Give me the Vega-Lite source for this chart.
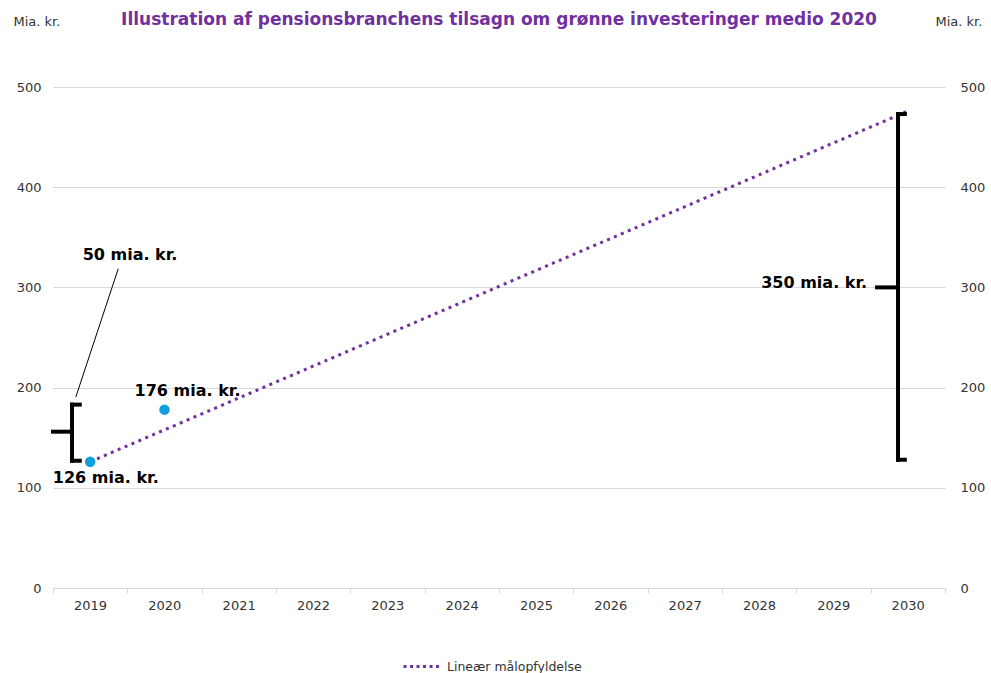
{
  "$schema": "https://vega.github.io/schema/vega-lite/v6.json",
  "autosize": {"type": "none"},
  "width": 892,
  "height": 501,
  "padding": {"left": 53, "top": 87, "right": 46, "bottom": 85},
  "background": "white",
  "title": {
    "text": "Illustration  af pensionsbranchens  tilsagn om grønne investeringer medio 2020",
    "color": "#7030A0",
    "font": "DejaVu Sans",
    "fontWeight": "bold",
    "fontSize": 17,
    "anchor": "middle",
    "frame": "group",
    "offset": -14
  },
  "config": {
    "view": {"stroke": null},
    "axis": {
      "labelFont": "DejaVu Sans",
      "labelFontSize": 13,
      "labelColor": "#333333",
      "titleFont": "DejaVu Sans",
      "titleFontSize": 13,
      "titleFontWeight": "normal",
      "titleColor": "#333333"
    }
  },
  "datasets": {
    "line": [
      {"year": 2019, "value": 126, "series": "Lineær målopfyldelse"},
      {"year": 2030, "value": 476, "series": "Lineær målopfyldelse"}
    ],
    "points": [
      {"year": 2019, "value": 126},
      {"year": 2020, "value": 178}
    ],
    "brackets": [
      {"x": 2018.756, "x2": 2018.756, "y": 183, "y2": 127, "w": 3},
      {"x": 2018.756, "x2": 2018.86, "y": 183, "y2": 183, "w": 3},
      {"x": 2018.756, "x2": 2018.86, "y": 127, "y2": 127, "w": 3},
      {"x": 2018.5, "x2": 2018.756, "y": 156, "y2": 156, "w": 3},
      {"x": 2029.868, "x2": 2029.868, "y": 473, "y2": 128, "w": 3},
      {"x": 2029.868, "x2": 2029.96, "y": 473, "y2": 473, "w": 3},
      {"x": 2029.868, "x2": 2029.96, "y": 128, "y2": 128, "w": 3},
      {"x": 2029.586, "x2": 2029.868, "y": 300, "y2": 300, "w": 3},
      {"x": 2019.375, "x2": 2018.809, "y": 318, "y2": 191, "w": 1}
    ],
    "labels": [
      {"year": 2019.536, "value": 332, "text": "50 mia. kr."},
      {"year": 2020.31, "value": 197, "text": "176 mia. kr."},
      {"year": 2019.21, "value": 110, "text": "126 mia. kr."},
      {"year": 2028.74, "value": 304, "text": "350 mia. kr."}
    ]
  },
  "layer": [
    {
      "data": {"name": "line"},
      "mark": {"type": "line", "strokeWidth": 3, "strokeDash": [3, 4.5], "strokeCap": "butt"},
      "encoding": {
        "x": {
          "field": "year",
          "type": "quantitative",
          "scale": {"domain": [2018.5, 2030.5], "nice": false, "zero": false},
          "axis": {
            "title": null,
            "values": [2018.5, 2019.5, 2020.5, 2021.5, 2022.5, 2023.5, 2024.5, 2025.5, 2026.5, 2027.5, 2028.5, 2029.5, 2030.5],
            "labelExpr": "datum.value > 2030 ? '' : format(datum.value + 0.5, 'd')",
            "labelOffset": 37,
            "labelFlush": false,
            "labelOverlap": false,
            "labelFontSize": 13,
            "grid": false,
            "domain": true,
            "domainColor": "#d9d9d9",
            "tickColor": "#d9d9d9",
            "tickSize": 5,
            "labelPadding": 6
          }
        },
        "y": {
          "field": "value",
          "type": "quantitative",
          "scale": {"domain": [0, 500], "nice": false},
          "axis": {
            "orient": "left",
            "values": [0, 100, 200, 300, 400, 500],
            "title": "Mia. kr.",
            "titleAngle": 0,
            "titleAlign": "left",
            "titleBaseline": "middle",
            "titleX": -40,
            "titleY": -66,
            "grid": true,
            "gridColor": "#d9d9d9",
            "domain": false,
            "ticks": false,
            "labelPadding": 12
          }
        },
        "color": {
          "field": "series",
          "type": "nominal",
          "scale": {"range": ["#7030A0"]},
          "legend": {
            "title": null,
            "orient": "none",
            "legendX": 349,
            "legendY": 559,
            "symbolType": "stroke",
            "symbolSize": 1444,
            "symbolStrokeWidth": 3,
            "symbolDash": [3, 3.5],
            "labelFont": "DejaVu Sans",
            "labelFontSize": 12.5,
            "labelColor": "#333333",
            "padding": 0
          }
        }
      }
    },
    {
      "data": {"name": "points"},
      "mark": {"type": "point", "filled": true, "opacity": 1, "size": 110, "color": "#119FDB"},
      "encoding": {
        "x": {"field": "year", "type": "quantitative"},
        "y": {
          "field": "value",
          "type": "quantitative",
          "axis": {
            "orient": "right",
            "values": [0, 100, 200, 300, 400, 500],
            "title": "Mia. kr.",
            "titleAngle": 0,
            "titleAlign": "left",
            "titleBaseline": "middle",
            "titleX": -10,
            "titleY": -66,
            "grid": false,
            "domain": false,
            "ticks": false,
            "labelPadding": 15
          }
        }
      }
    },
    {
      "data": {"name": "brackets"},
      "mark": {"type": "rule", "color": "black", "strokeCap": "square"},
      "encoding": {
        "x": {"field": "x", "type": "quantitative"},
        "x2": {"field": "x2"},
        "y": {"field": "y", "type": "quantitative", "axis": null},
        "y2": {"field": "y2"},
        "strokeWidth": {"field": "w", "type": "quantitative", "scale": {"type": "identity"}, "legend": null}
      }
    },
    {
      "data": {"name": "labels"},
      "mark": {"type": "text", "font": "DejaVu Sans", "fontWeight": "bold", "fontSize": 16, "color": "black", "align": "center", "baseline": "middle"},
      "encoding": {
        "x": {"field": "year", "type": "quantitative"},
        "y": {"field": "value", "type": "quantitative", "axis": null},
        "text": {"field": "text"}
      }
    }
  ],
  "resolve": {"axis": {"y": "independent"}}
}
